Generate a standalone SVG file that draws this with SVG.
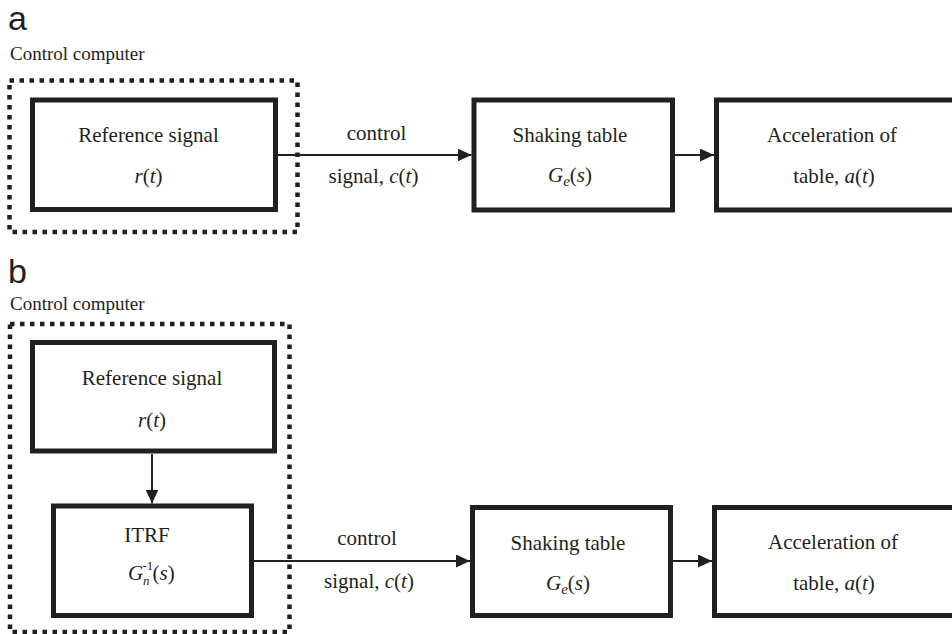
<svg xmlns="http://www.w3.org/2000/svg" width="952" height="634" viewBox="0 0 952 634">
<style>
.box{fill:#fff;stroke:#231f20;stroke-width:5}
.dot{fill:none;stroke:#231f20;stroke-width:4.5;stroke-dasharray:4.5 5.5}
.edge{fill:none;stroke:#231f20;stroke-width:2}
.t{font-family:"Liberation Serif","Times New Roman",serif;font-size:21px;fill:#231f20;text-anchor:middle}
.ts{font-family:"Liberation Serif","Times New Roman",serif;font-size:21px;fill:#231f20}
.sm{font-family:"Liberation Serif","Times New Roman",serif;font-size:13px;fill:#231f20}
.lbl{font-family:"Liberation Sans",Arial,sans-serif;font-size:34px;fill:#231f20}
.cap{font-family:"Liberation Serif","Times New Roman",serif;font-size:19px;fill:#231f20}
.i{font-style:italic}
</style>
<defs>
<marker id="ah" markerUnits="userSpaceOnUse" markerWidth="14" markerHeight="13" refX="14" refY="6.5" orient="auto">
<path d="M0,0 L14,6.5 L0,13 z" fill="#231f20"/>
</marker>
</defs>

<!-- Panel a -->
<text class="lbl" x="8" y="30">a</text>
<text class="cap" x="10" y="60">Control computer</text>
<rect id="computer_a" class="dot" x="9.5" y="80.5" width="288" height="151.5"/>

<g id="connectors">
<line class="edge" x1="278" y1="155" x2="471.5" y2="155" marker-end="url(#ah)"/>
<line class="edge" x1="675" y1="155" x2="714" y2="155" marker-end="url(#ah)"/>
<line class="edge" x1="152" y1="454" x2="152" y2="503.5" marker-end="url(#ah)"/>
<line class="edge" x1="254" y1="561" x2="470" y2="561" marker-end="url(#ah)"/>
<line class="edge" x1="673" y1="561" x2="712" y2="561" marker-end="url(#ah)"/>
<text class="t" x="376.5" y="140">control</text>
<text class="t" x="373.5" y="183">signal, <tspan class="i">c</tspan>(<tspan class="i">t</tspan>)</text>
<text class="t" x="367" y="545">control</text>
<text class="t" x="369" y="588">signal, <tspan class="i">c</tspan>(<tspan class="i">t</tspan>)</text>
</g>

<g id="ref_a">
<rect class="box" x="32.5" y="100" width="243" height="109.5"/>
<text class="t" x="148.5" y="142">Reference signal</text>
<text class="t" x="148.5" y="183"><tspan class="i">r</tspan>(<tspan class="i">t</tspan>)</text>
</g>
<g id="shake_a">
<rect class="box" x="474" y="100" width="198.5" height="110"/>
<text class="t" x="570" y="142">Shaking table</text>
<text class="t" x="570" y="182"><tspan class="i">G</tspan><tspan class="i" font-size="15" dy="4">e</tspan><tspan dy="-4">(</tspan><tspan class="i">s</tspan>)</text>
</g>
<g id="accel_a">
<rect class="box" x="716.5" y="100" width="260" height="110"/>
<text class="t" x="832" y="142">Acceleration of</text>
<text class="t" x="834" y="183">table, <tspan class="i">a</tspan>(<tspan class="i">t</tspan>)</text>
</g>

<!-- Panel b -->
<text class="lbl" x="8" y="283">b</text>
<text class="cap" x="10" y="310">Control computer</text>
<rect id="computer_b" class="dot" x="10" y="324" width="279.5" height="308"/>

<g id="ref_b">
<rect class="box" x="32.5" y="342.5" width="242" height="108.5"/>
<text class="t" x="152" y="385">Reference signal</text>
<text class="t" x="152" y="427"><tspan class="i">r</tspan>(<tspan class="i">t</tspan>)</text>
</g>
<g id="itrf">
<rect class="box" x="53.5" y="506" width="198" height="109.5"/>
<text class="t" x="147" y="542">ITRF</text>
<text class="ts i" x="128" y="580">G</text>
<text class="sm" x="142.5" y="570">-1</text>
<text class="sm i" x="143" y="585">n</text>
<text class="ts" x="152.5" y="580">(<tspan class="i">s</tspan>)</text>
</g>
<g id="shake_b">
<rect class="box" x="472.5" y="507.5" width="198" height="108"/>
<text class="t" x="568" y="550">Shaking table</text>
<text class="t" x="568" y="590"><tspan class="i">G</tspan><tspan class="i" font-size="15" dy="4">e</tspan><tspan dy="-4">(</tspan><tspan class="i">s</tspan>)</text>
</g>
<g id="accel_b">
<rect class="box" x="714.5" y="507.5" width="260" height="108"/>
<text class="t" x="833" y="549">Acceleration of</text>
<text class="t" x="834" y="590">table, <tspan class="i">a</tspan>(<tspan class="i">t</tspan>)</text>
</g>
</svg>
